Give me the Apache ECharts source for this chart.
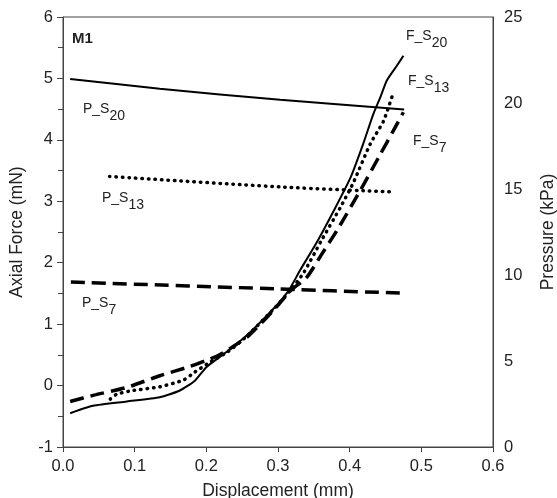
<!DOCTYPE html>
<html>
<head>
<meta charset="utf-8">
<script src="https://cdn.jsdelivr.net/npm/echarts@6/dist/echarts.min.js"></script>
<style>
html, body { margin: 0; padding: 0; background: #fff; }
#chart { width: 557px; height: 498px; }
</style>
</head>
<body>
<div id="chart"></div>
<script>
// 力曲线 (左轴, mN)
var fS20X = [0.01, 0.042, 0.089, 0.135, 0.163, 0.184, 0.2, 0.225, 0.254, 0.296, 0.315, 0.331, 0.355, 0.378, 0.401, 0.419, 0.433, 0.443, 0.452, 0.466, 0.475];
var fS20Y = [-0.45, -0.33, -0.26, -0.19, -0.08, 0.08, 0.3, 0.52, 0.79, 1.28, 1.55, 1.88, 2.35, 2.85, 3.38, 3.94, 4.42, 4.7, 4.97, 5.21, 5.37];
var fS13X = [0.066, 0.075, 0.098, 0.135, 0.168, 0.184, 0.205, 0.23, 0.256, 0.296, 0.318, 0.336, 0.36, 0.387, 0.405, 0.429, 0.447, 0.459];
var fS13Y = [-0.22, -0.14, -0.08, -0.02, 0.09, 0.22, 0.38, 0.55, 0.8, 1.27, 1.56, 1.84, 2.35, 2.9, 3.3, 3.94, 4.3, 4.7];
var fS7X = [0.01, 0.042, 0.089, 0.135, 0.177, 0.2, 0.215, 0.238, 0.26, 0.298, 0.318, 0.34, 0.36, 0.382, 0.415, 0.443, 0.461, 0.475];
var fS7Y = [-0.26, -0.16, -0.03, 0.16, 0.31, 0.41, 0.48, 0.64, 0.82, 1.28, 1.55, 1.76, 2.12, 2.52, 3.18, 3.77, 4.15, 4.45];
// 压力曲线 (右轴, kPa)
var pS20X = [0.01, 0.135, 0.303, 0.476];
var pS20Y = [21.4, 20.83, 20.19, 19.62];
var pS13X = [0.065, 0.303, 0.461];
var pS13Y = [15.73, 15.12, 14.83];
var pS7X = [0.011, 0.3, 0.476];
var pS7Y = [9.59, 9.19, 8.94];

function pts(xs, ys) {
	return xs.map(function(x, i) { return [x, ys[i]]; });
}

var axisColor = '#444';
var txt = '#222';
var font = 'Liberation Sans, Arial, sans-serif';

var solid = { color: '#000', width: 2, type: 'solid' };
var dotted = { color: '#000', width: 3.5, type: [0.5, 6], cap: 'round' };
var dashed = { color: '#000', width: 3.5, type: [14, 7], cap: 'butt' };

function lab(name, sub, x, y) {
	return {
		type: 'text', left: x, top: y,
		style: {
			text: '{a|' + name + '}{b|' + sub + '}',
			rich: {
				a: { fontSize: 14, fontFamily: font, fill: txt, lineHeight: 16, verticalAlign: 'top' },
				b: { fontSize: 14, fontFamily: font, fill: txt, lineHeight: 21, verticalAlign: 'bottom' }
			}
		}
	};
}

var myChart = echarts.init(document.getElementById('chart'));
var option = {
	animation: false,
	backgroundColor: '#fff',
	grid: { left: 63, right: 64, top: 17, bottom: 51, containLabel: false, outerBoundsMode: 'none', show: true, borderColor: axisColor, borderWidth: 1 },
	xAxis: {
		type: 'value', min: 0, max: 0.6, interval: 0.1,
		name: 'Displacement (mm)', nameLocation: 'middle', nameGap: 35,
		nameTextStyle: { fontSize: 17.5, fontFamily: font, color: txt },
		axisLine: { show: true, onZero: false, lineStyle: { color: axisColor } },
		axisTick: { show: true, length: 5, lineStyle: { color: axisColor } },
		axisLabel: { fontSize: 16.5, fontFamily: font, color: txt, margin: 11, formatter: function(v) { return v.toFixed(1); } },
		splitLine: { show: false }
	},
	yAxis: [{
		type: 'value', min: -1, max: 6, interval: 1, position: 'left',
		name: 'Axial Force (mN)', nameLocation: 'middle', nameGap: 37, nameRotate: 90,
		nameTextStyle: { fontSize: 17.5, fontFamily: font, color: txt },
		axisLine: { show: true, onZero: false, lineStyle: { color: axisColor } },
		axisTick: { show: true, length: 6, lineStyle: { color: axisColor } },
		minorTick: { show: true, splitNumber: 2, length: 5, lineStyle: { color: axisColor } },
		axisLabel: { fontSize: 16.5, fontFamily: font, color: txt, margin: 10 },
		splitLine: { show: false }
	}, {
		type: 'value', min: 0, max: 25, interval: 5, position: 'right',
		name: 'Pressure (kPa)', nameLocation: 'middle', nameGap: 46, nameRotate: 90,
		nameTextStyle: { fontSize: 17.5, fontFamily: font, color: txt },
		axisLine: { show: true, onZero: false, lineStyle: { color: axisColor } },
		axisTick: { show: false },
		axisLabel: { fontSize: 16.5, fontFamily: font, color: txt, margin: 11 },
		splitLine: { show: false }
	}],
	series: [
		{ name: 'F_S20', type: 'line', yAxisIndex: 0, data: pts(fS20X, fS20Y), showSymbol: false, smooth: 0.2, lineStyle: solid },
		{ name: 'F_S13', type: 'line', yAxisIndex: 0, data: pts(fS13X, fS13Y), showSymbol: false, smooth: 0.2, lineStyle: dotted },
		{ name: 'F_S7', type: 'line', yAxisIndex: 0, data: pts(fS7X, fS7Y), showSymbol: false, smooth: 0.2, lineStyle: dashed },
		{ name: 'P_S20', type: 'line', yAxisIndex: 1, data: pts(pS20X, pS20Y), showSymbol: false, smooth: 0.3, lineStyle: solid },
		{ name: 'P_S13', type: 'line', yAxisIndex: 1, data: pts(pS13X, pS13Y), showSymbol: false, smooth: 0.3, lineStyle: dotted },
		{ name: 'P_S7', type: 'line', yAxisIndex: 1, data: pts(pS7X, pS7Y), showSymbol: false, smooth: 0.3, lineStyle: dashed }
	],
	graphic: [
		{ type: 'text', left: 72, top: 31, style: { text: 'M1', fontSize: 15, fontWeight: 'bold', fontFamily: font, fill: txt } },
		lab('P_S', '20', 83, 102),
		lab('P_S', '13', 102, 191),
		lab('P_S', '7', 82, 296),
		lab('F_S', '20', 406, 29),
		lab('F_S', '13', 408, 74),
		lab('F_S', '7', 413, 134)
	]
};
myChart.setOption(option);
</script>
</body>
</html>
